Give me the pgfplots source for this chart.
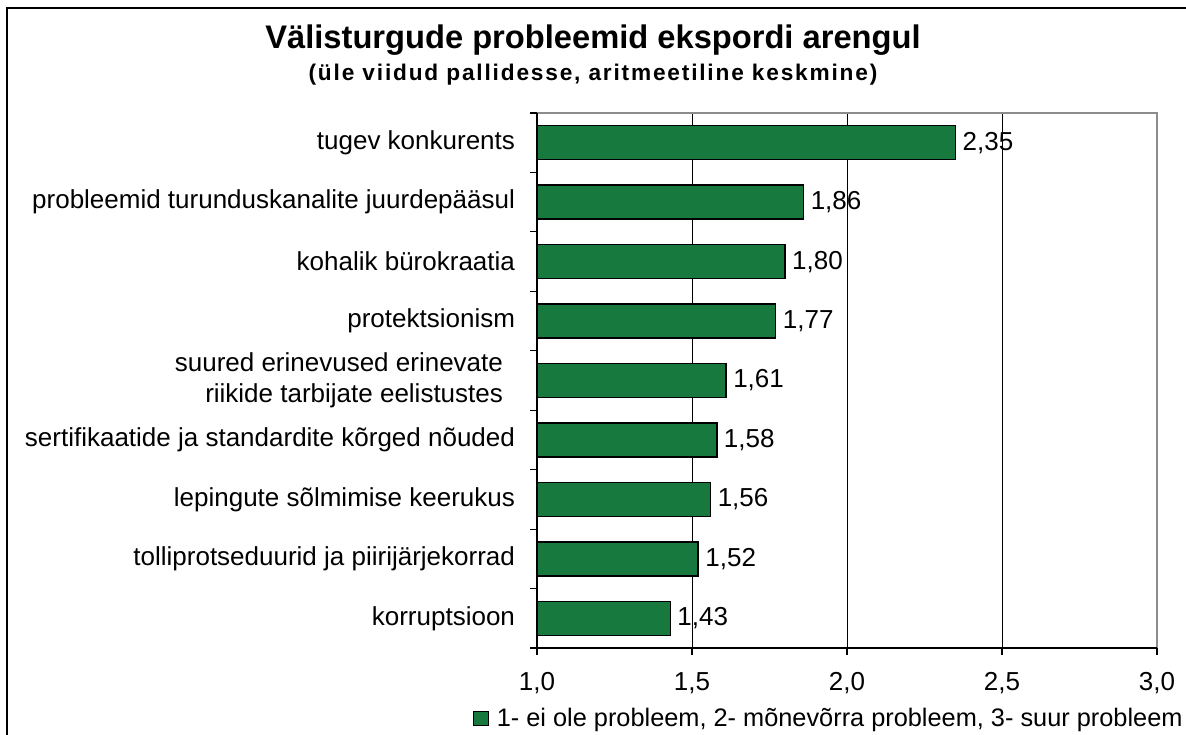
\documentclass[border=0pt]{standalone}
\usepackage{fontspec}
\setmainfont{Liberation Sans}
\usepackage{pgfplots}
\pgfplotsset{compat=1.18}
\definecolor{bargreen}{HTML}{18793E}
\definecolor{frame}{HTML}{8C8C8C}
\newcommand{\lblfont}{\fontsize{19.5}{23}\selectfont}

\begin{document}
\begin{tikzpicture}
  \useasboundingbox (0,0) rectangle (889.5pt,551.25pt);
  \draw[black, line width=0.9pt] (5.25pt,-10pt) rectangle (900pt,545.25pt);
  \node[anchor=base, font=\bfseries\fontsize{24.5}{28}\selectfont] at (444.75pt,515pt)
    {Välisturgude probleemid ekspordi arengul};
  \node[anchor=base, font=\bfseries\fontsize{17}{20}\selectfont\addfontfeatures{LetterSpace=8}] at (444.75pt,491pt)
    {(üle viidud pallidesse, aritmeetiline keskmine)};
  \begin{axis}[
    at={(402.75pt,65.25pt)}, anchor=south west,
    width=465pt, height=401.25pt, scale only axis,
    xbar, bar width=25.5pt,
    xmin=1, xmax=3, ymin=0.5, ymax=9.5, y dir=reverse,
    clip mode=individual,
    /pgf/number format/assume math mode=true,
    axis line style={draw=none},
    xtick={1,1.5,2,2.5,3}, xtick pos=bottom,
    xticklabel={\pgfmathprintnumber[fixed,fixed zerofill,precision=1,use comma]{\tick}},
    xticklabel style={font=\lblfont, yshift=-10pt},
    x tick style={draw=black, line width=0.8pt},
    tick align=outside, major tick length=5pt,
    xmajorgrids, grid style={draw=black, line width=0.5pt},
    ytick={1,...,9}, ytick pos=left,
    y tick style={draw=none},
    yticklabels={tugev konkurents, probleemid turunduskanalite juurdepääsul, kohalik bürokraatia, protektsionism, {suured erinevused erinevate\hspace*{9pt}\\riikide tarbijate eelistustes\hspace*{9pt}}, sertifikaatide ja standardite kõrged nõuded, lepingute sõlmimise keerukus, tolliprotseduurid ja piirijärjekorrad, korruptsioon},
    yticklabel style={font=\lblfont, align=right, xshift=-8pt},
    extra y ticks={0.5,1.5,...,9.5},
    extra y tick labels={},
    extra y tick style={grid=none, y tick style={draw=black, line width=0.8pt}},
    point meta=x,
    nodes near coords={\pgfmathprintnumber[fixed,fixed zerofill,precision=2,use comma]{\pgfplotspointmeta}},
    nodes near coords style={font=\lblfont, anchor=west, xshift=1.5pt},
    legend style={at={(1.046,-0.131)}, anchor=east, draw=none, fill=none,
      font=\fontsize{19}{23}\selectfont, inner sep=0pt},
    legend image code/.code={\draw[#1, draw=black, line width=0.8pt] (0pt,-5.25pt) rectangle (11pt,5.25pt);},
  ]
    \addplot[fill=bargreen, draw=black, line width=1.1pt] coordinates {
      (2.35,1) (1.86,2) (1.80,3) (1.77,4) (1.61,5) (1.58,6) (1.56,7) (1.52,8) (1.43,9)};
    \addlegendentry{\hspace{4pt}1- ei ole probleem, 2- mõnevõrra probleem, 3- suur probleem}
    \draw[frame, line width=1.1pt] (axis description cs:0,1) -- (axis description cs:1,1) -- (axis description cs:1,0);
    \draw[black, line width=1.3pt] (axis description cs:0,1) -- (axis description cs:0,0) -- (axis description cs:1,0);
  \end{axis}
\end{tikzpicture}
\end{document}
